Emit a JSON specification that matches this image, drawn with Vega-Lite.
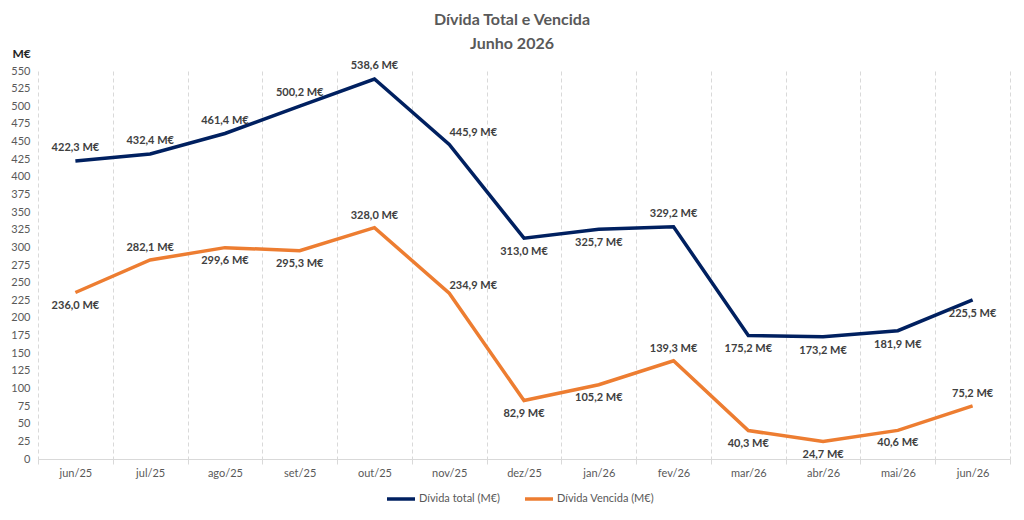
{
  "$schema": "https://vega.github.io/schema/vega-lite/v6.json",
  "width": 972,
  "height": 388,
  "autosize": {"type": "none"},
  "padding": {"left": 38, "top": 71, "right": 14, "bottom": 61},
  "background": "white",
  "title": {
    "text": ["Dívida Total e Vencida", "Junho 2026"],
    "font": "Lato",
    "fontSize": 16,
    "fontWeight": "bold",
    "color": "#595959",
    "anchor": "middle",
    "lineHeight": 24,
    "offset": -5,
    "dx": -12
  },
  "config": {
    "view": {"stroke": null},
    "font": "Lato",
    "locale": {
      "number": {"decimal": ",", "thousands": ".", "grouping": [3], "currency": ["", " M€"]}
    }
  },
  "data": {
    "values": [
      {"month": "jun/25", "series": "Dívida total (M€)", "value": 422.3},
      {"month": "jul/25", "series": "Dívida total (M€)", "value": 432.4},
      {"month": "ago/25", "series": "Dívida total (M€)", "value": 461.4},
      {"month": "set/25", "series": "Dívida total (M€)", "value": 500.2},
      {"month": "out/25", "series": "Dívida total (M€)", "value": 538.6},
      {"month": "nov/25", "series": "Dívida total (M€)", "value": 445.9},
      {"month": "dez/25", "series": "Dívida total (M€)", "value": 313.0},
      {"month": "jan/26", "series": "Dívida total (M€)", "value": 325.7},
      {"month": "fev/26", "series": "Dívida total (M€)", "value": 329.2},
      {"month": "mar/26", "series": "Dívida total (M€)", "value": 175.2},
      {"month": "abr/26", "series": "Dívida total (M€)", "value": 173.2},
      {"month": "mai/26", "series": "Dívida total (M€)", "value": 181.9},
      {"month": "jun/26", "series": "Dívida total (M€)", "value": 225.5},
      {"month": "jun/25", "series": "Dívida Vencida (M€)", "value": 236.0},
      {"month": "jul/25", "series": "Dívida Vencida (M€)", "value": 282.1},
      {"month": "ago/25", "series": "Dívida Vencida (M€)", "value": 299.6},
      {"month": "set/25", "series": "Dívida Vencida (M€)", "value": 295.3},
      {"month": "out/25", "series": "Dívida Vencida (M€)", "value": 328.0},
      {"month": "nov/25", "series": "Dívida Vencida (M€)", "value": 234.9},
      {"month": "dez/25", "series": "Dívida Vencida (M€)", "value": 82.9},
      {"month": "jan/26", "series": "Dívida Vencida (M€)", "value": 105.2},
      {"month": "fev/26", "series": "Dívida Vencida (M€)", "value": 139.3},
      {"month": "mar/26", "series": "Dívida Vencida (M€)", "value": 40.3},
      {"month": "abr/26", "series": "Dívida Vencida (M€)", "value": 24.7},
      {"month": "mai/26", "series": "Dívida Vencida (M€)", "value": 40.6},
      {"month": "jun/26", "series": "Dívida Vencida (M€)", "value": 75.2}
    ]
  },
  "encoding": {
    "x": {
      "field": "month",
      "type": "ordinal",
      "sort": ["jun/25", "jul/25", "ago/25", "set/25", "out/25", "nov/25", "dez/25", "jan/26", "fev/26", "mar/26", "abr/26", "mai/26", "jun/26"],
      "scale": {"type": "band", "paddingInner": 0, "paddingOuter": 0},
      "bandPosition": 0.5,
      "axis": {
        "title": null,
        "labelAngle": 0,
        "grid": true,
        "gridDash": [4, 3],
        "gridColor": "#D9D9D9",
        "tickBand": "extent",
        "ticks": true,
        "tickColor": "#D9D9D9",
        "tickSize": 5,
        "domainColor": "#D9D9D9",
        "labelColor": "#595959",
        "labelFontSize": 11,
        "labelPadding": 3
      }
    },
    "y": {
      "field": "value",
      "type": "quantitative",
      "scale": {"domain": [0, 550], "nice": false},
      "axis": {
        "title": "M€",
        "titleAngle": 0,
        "titleAlign": "left",
        "titleBaseline": "alphabetic",
        "titleX": -26,
        "titleY": -14,
        "titleFontSize": 12,
        "titleFontWeight": "bold",
        "titleColor": "#262626",
        "values": [0, 25, 50, 75, 100, 125, 150, 175, 200, 225, 250, 275, 300, 325, 350, 375, 400, 425, 450, 475, 500, 525, 550],
        "grid": false,
        "domain": false,
        "ticks": false,
        "tickSize": 0,
        "labelColor": "#595959",
        "labelFontSize": 11,
        "labelPadding": 8
      }
    }
  },
  "layer": [
    {
      "mark": {"type": "line", "strokeWidth": 3.5},
      "encoding": {
        "color": {
          "field": "series",
          "type": "nominal",
          "scale": {"domain": ["Dívida total (M€)", "Dívida Vencida (M€)"], "range": ["#002060", "#ED7D31"]},
          "legend": {
            "title": null,
            "orient": "none",
            "direction": "horizontal",
            "legendX": 347,
            "legendY": 412,
            "symbolType": "stroke",
            "symbolSize": 784,
            "symbolStrokeWidth": 3.5,
            "labelFontSize": 11,
            "labelColor": "#595959",
            "labelOffset": 2,
            "columnPadding": 18
          }
        }
      }
    },
    {
      "transform": [{"filter": {"and": [{"field": "series", "equal": "Dívida total (M€)"}, {"field": "month", "oneOf": ["jun/25", "jul/25", "ago/25", "set/25", "out/25", "fev/26"]}]}}],
      "mark": {"type": "text", "fontSize": 11, "fontWeight": "bold", "color": "#404040", "dy": -13, "baseline": "middle"},
      "encoding": {"text": {"field": "value", "type": "quantitative", "format": "$.1f"}}
    },
    {
      "transform": [{"filter": {"and": [{"field": "series", "equal": "Dívida total (M€)"}, {"field": "month", "oneOf": ["nov/25"]}]}}],
      "mark": {"type": "text", "fontSize": 11, "fontWeight": "bold", "color": "#404040", "dx": 24, "dy": -11, "baseline": "middle"},
      "encoding": {"text": {"field": "value", "type": "quantitative", "format": "$.1f"}}
    },
    {
      "transform": [{"filter": {"and": [{"field": "series", "equal": "Dívida total (M€)"}, {"field": "month", "oneOf": ["dez/25", "jan/26", "mar/26", "abr/26", "mai/26", "jun/26"]}]}}],
      "mark": {"type": "text", "fontSize": 11, "fontWeight": "bold", "color": "#404040", "dy": 14, "baseline": "middle"},
      "encoding": {"text": {"field": "value", "type": "quantitative", "format": "$.1f"}}
    },
    {
      "transform": [{"filter": {"and": [{"field": "series", "equal": "Dívida Vencida (M€)"}, {"field": "month", "oneOf": ["jul/25", "out/25", "fev/26", "jun/26"]}]}}],
      "mark": {"type": "text", "fontSize": 11, "fontWeight": "bold", "color": "#404040", "dy": -12, "baseline": "middle"},
      "encoding": {"text": {"field": "value", "type": "quantitative", "format": "$.1f"}}
    },
    {
      "transform": [{"filter": {"and": [{"field": "series", "equal": "Dívida Vencida (M€)"}, {"field": "month", "oneOf": ["nov/25"]}]}}],
      "mark": {"type": "text", "fontSize": 11, "fontWeight": "bold", "color": "#404040", "dx": 24, "dy": -7, "baseline": "middle"},
      "encoding": {"text": {"field": "value", "type": "quantitative", "format": "$.1f"}}
    },
    {
      "transform": [{"filter": {"and": [{"field": "series", "equal": "Dívida Vencida (M€)"}, {"field": "month", "oneOf": ["jun/25", "ago/25", "set/25", "dez/25", "jan/26", "mar/26", "abr/26", "mai/26"]}]}}],
      "mark": {"type": "text", "fontSize": 11, "fontWeight": "bold", "color": "#404040", "dy": 13, "baseline": "middle"},
      "encoding": {"text": {"field": "value", "type": "quantitative", "format": "$.1f"}}
    }
  ]
}
